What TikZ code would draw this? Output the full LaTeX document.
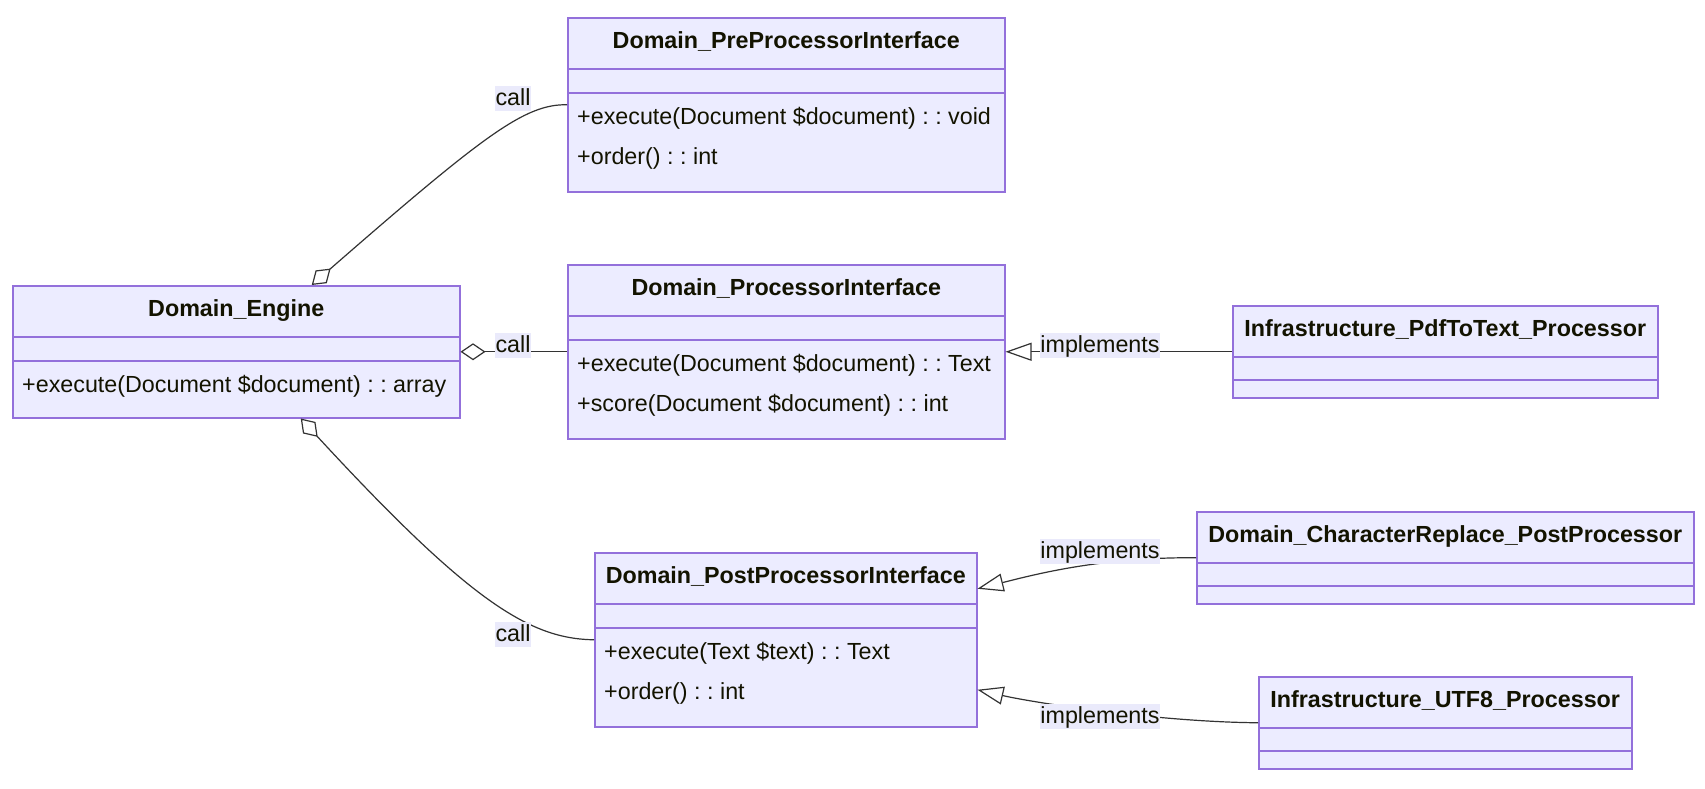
\documentclass[tikz,border=0pt]{standalone}
\usepackage{fontspec}
\setmainfont{Liberation Sans}
\usepackage{tikz}
\usepackage{xcolor}
\usetikzlibrary{arrows.meta}
\definecolor{classfill}{HTML}{ECECFF}
\definecolor{classline}{HTML}{9370DB}
\definecolor{edgeline}{HTML}{333333}
\definecolor{labelfill}{HTML}{EAEAFB}
\definecolor{classtext}{HTML}{131300}
\frenchspacing
\begin{document}
\begin{tikzpicture}[x=1pt,y=-1pt,font=\fontsize{23.3}{28}\selectfont,
box/.style={draw=classline,fill=classfill,line width=1.5pt,anchor=north west,inner sep=0pt},
divider/.style={draw=classline,line width=1.5pt},
classname/.style={anchor=base,text=classtext,inner sep=0pt,font=\fontsize{23.3}{28}\selectfont\bfseries},
member/.style={anchor=base west,text=classtext,inner sep=0pt},
link/.style={draw=edgeline,line width=1.2pt},
lbl/.style={anchor=base,fill=labelfill,text=classtext,inner xsep=0.5pt,inner ysep=0pt,text height=19.5pt,text depth=5.5pt},
agg/.style={{Diamond[open,length=25pt,width=17pt]}-},
real/.style={-{Triangle[open,length=26pt,width=18pt]}}]
\useasboundingbox[fill=white](0,0)rectangle(1705,788);
\node[box,minimum width=447pt,minimum height=132pt](eng)at(12,285){};
\node[box,minimum width=437pt,minimum height=174pt](pre)at(567,17){};
\node[box,minimum width=437pt,minimum height=174pt](proc)at(567,264){};
\node[box,minimum width=382pt,minimum height=174pt](post)at(594,552){};
\node[box,minimum width=425pt,minimum height=92pt](pdf)at(1232,305){};
\node[box,minimum width=497pt,minimum height=92pt](chr)at(1196,511){};
\node[box,minimum width=373pt,minimum height=92pt](utf)at(1258,676){};
\draw[divider]([yshift=-52pt]eng.north west)--([yshift=-52pt]eng.north east)
([yshift=-76pt]eng.north west)--([yshift=-76pt]eng.north east)
([yshift=-52pt]pre.north west)--([yshift=-52pt]pre.north east)
([yshift=-76pt]pre.north west)--([yshift=-76pt]pre.north east)
([yshift=-52pt]proc.north west)--([yshift=-52pt]proc.north east)
([yshift=-76pt]proc.north west)--([yshift=-76pt]proc.north east)
([yshift=-52pt]post.north west)--([yshift=-52pt]post.north east)
([yshift=-76pt]post.north west)--([yshift=-76pt]post.north east)
([yshift=-52pt]pdf.north west)--([yshift=-52pt]pdf.north east)
([yshift=-75pt]pdf.north west)--([yshift=-75pt]pdf.north east)
([yshift=-52pt]chr.north west)--([yshift=-52pt]chr.north east)
([yshift=-75pt]chr.north west)--([yshift=-75pt]chr.north east)
([yshift=-52pt]utf.north west)--([yshift=-52pt]utf.north east)
([yshift=-75pt]utf.north west)--([yshift=-75pt]utf.north east);
\node[classname](engname)at([yshift=-31.5pt]eng.north){Domain\_Engine};
\node[member](engexec)at([xshift=10pt,yshift=-107pt]eng.north west){+execute(Document \$document) : : array};
\node[classname](prename)at([yshift=-31.5pt]pre.north){Domain\_PreProcessorInterface};
\node[member](preexec)at([xshift=10pt,yshift=-107pt]pre.north west){+execute(Document \$document) : : void};
\node[member](preorder)at([xshift=10pt,yshift=-147pt]pre.north west){+order() : : int};
\node[classname](procname)at([yshift=-31.5pt]proc.north){Domain\_ProcessorInterface};
\node[member](procexec)at([xshift=10pt,yshift=-107pt]proc.north west){+execute(Document \$document) : : Text};
\node[member](procscore)at([xshift=10pt,yshift=-147pt]proc.north west){+score(Document \$document) : : int};
\node[classname](postname)at([yshift=-31.5pt]post.north){Domain\_PostProcessorInterface};
\node[member](postexec)at([xshift=10pt,yshift=-107pt]post.north west){+execute(Text \$text) : : Text};
\node[member](postorder)at([xshift=10pt,yshift=-147pt]post.north west){+order() : : int};
\node[classname](pdfname)at([yshift=-31.5pt]pdf.north){Infrastructure\_PdfToText\_Processor};
\node[classname](chrname)at([yshift=-31.5pt]chr.north){Domain\_CharacterReplace\_PostProcessor};
\node[classname](utfname)at([yshift=-31.5pt]utf.north){Infrastructure\_UTF8\_Processor};
\draw[link,agg]([xshift=75.5pt]eng.north)..controls(485,134)and(525,104)..(pre.west);
\draw[link,agg](eng.east)--(proc.west);
\draw[link,agg]([xshift=64.5pt]eng.south)..controls(470,602)and(530,639)..(post.west);
\draw[link,real](pdf.west)--(proc.east);
\draw[link,real](chr.west)..controls(1100,557)and(1035,574.5)..([yshift=51pt]post.east);
\draw[link,real](utf.west)..controls(1160,722)and(1035,703)..([yshift=-50pt]post.east);
\node[lbl](callpre)at(513,105.5){call};
\node[lbl](callproc)at(513,352.5){call};
\node[lbl](callpost)at(513,641.5){call};
\node[lbl](implpdf)at(1100,352.5){implements};
\node[lbl](implchr)at(1100,558.5){implements};
\node[lbl](implutf)at(1100,723.5){implements};
\end{tikzpicture}
\end{document}
